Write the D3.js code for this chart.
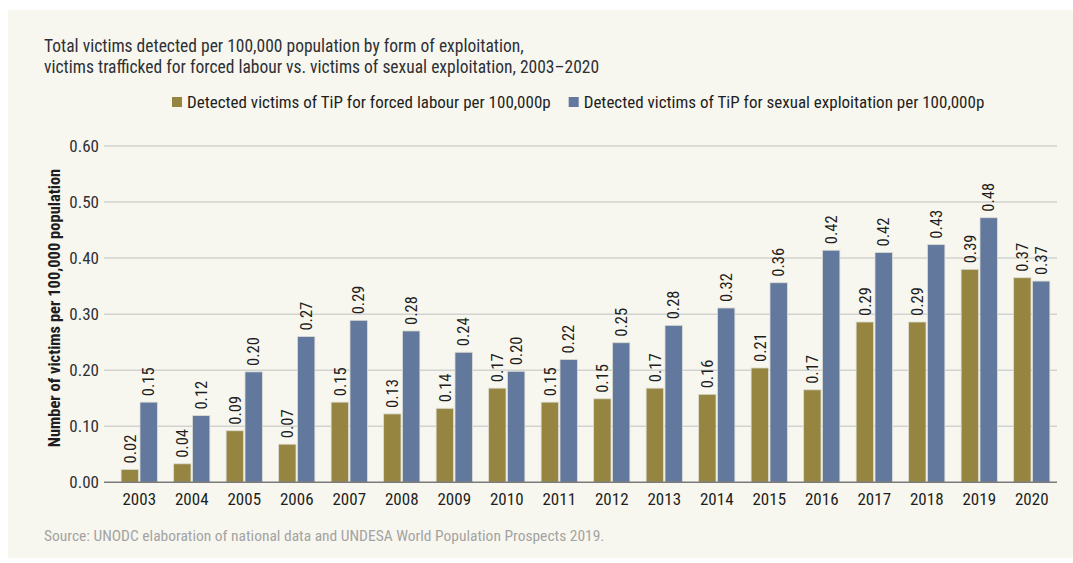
<!DOCTYPE html>
<html>
<head>
<meta charset="utf-8">
<script src="https://cdn.jsdelivr.net/npm/d3@7"></script>
<style>
  body { margin: 0; background: #fff; }
  svg text { font-family: "Roboto Condensed", "Liberation Sans Narrow", "DejaVu Sans Condensed", Roboto, sans-serif; font-stretch: condensed; }
</style>
</head>
<body>
<svg id="chart" width="1073" height="563"></svg>
<script>
// data
const years = ["2003","2004","2005","2006","2007","2008","2009","2010","2011","2012","2013","2014","2015","2016","2017","2018","2019","2020"];
const forcedLabour = [0.023,0.033,0.092,0.068,0.143,0.122,0.132,0.168,0.143,0.149,0.168,0.157,0.204,0.165,0.286,0.286,0.380,0.365];
const sexualExpl   = [0.143,0.119,0.197,0.260,0.289,0.270,0.232,0.198,0.219,0.249,0.280,0.311,0.356,0.414,0.410,0.424,0.472,0.359];
const forcedText = ["0.02","0.04","0.09","0.07","0.15","0.13","0.14","0.17","0.15","0.15","0.17","0.16","0.21","0.17","0.29","0.29","0.39","0.37"];
const sexualText = ["0.15","0.12","0.20","0.27","0.29","0.28","0.24","0.20","0.22","0.25","0.28","0.32","0.36","0.42","0.42","0.43","0.48","0.37"];
const yTicks = [0, 0.1, 0.2, 0.3, 0.4, 0.5, 0.6];
const seriesNames = ["Detected victims of TiP for forced labour per 100,000p", "Detected victims of TiP for sexual exploitation per 100,000p"];
const colors = ["#968540", "#62789c"];

const svg = d3.select("#chart");

// panel background
svg.append("rect").attr("x", 8).attr("y", 10).attr("width", 1065).attr("height", 548).attr("fill", "#f8f7ef");

// title
svg.append("text").attr("x", 44).attr("y", 52).attr("font-size", 17.5).attr("fill", "#2e3035")
  .text("Total victims detected per 100,000 population by form of exploitation,");
svg.append("text").attr("x", 44).attr("y", 73).attr("font-size", 17.5).attr("fill", "#2e3035")
  .text("victims trafficked for forced labour vs. victims of sexual exploitation, 2003\u20132020");

// legend
const legend = svg.append("g");
let lx = 172;
seriesNames.forEach(function (name, i) {
    legend.append("rect").attr("x", lx).attr("y", 97).attr("width", 10).attr("height", 10).attr("fill", colors[i]);
    const t = legend.append("text").attr("x", lx + 15).attr("y", 108).attr("font-size", 17).attr("fill", "#1e1e22").text(name);
    lx += 15 + t.node().getComputedTextLength() + 18;
});

const y = d3.scaleLinear().domain([0, 0.6]).range([482.3, 146]);
const x0 = d3.scaleBand().domain(years).range([113, 1058]).paddingInner(0.31).paddingOuter(0.155);
const x1 = d3.scaleBand().domain([0, 1]).range([0, x0.bandwidth()]).paddingInner(0.08);

// gridlines + y labels
const grid = svg.append("g");
grid.selectAll("line").data(yTicks.slice(1)).enter().append("line")
  .attr("x1", 104).attr("x2", 1057)
  .attr("y1", function (d) { return y(d); }).attr("y2", function (d) { return y(d); })
  .attr("stroke", "#d2d2d0").attr("stroke-width", 1.5);
grid.selectAll("text").data(yTicks).enter().append("text")
  .attr("x", 99).attr("y", function (d) { return y(d); })
  .attr("dy", "0.35em").attr("text-anchor", "end").attr("font-size", 17).attr("fill", "#2e3035")
  .text(function (d) { return d3.format(".2f")(d); });

// y axis title
svg.append("text").attr("transform", "translate(60,308) rotate(-90)")
  .attr("text-anchor", "middle").attr("font-size", 16.5).attr("font-weight", "bold").attr("fill", "#1e1e22")
  .text("Number of victims per 100,000 population");

// bars
const rows = years.map(function (yr, i) {
    return { year: yr, vals: [forcedLabour[i], sexualExpl[i]], txt: [forcedText[i], sexualText[i]] };
});
const groups = svg.selectAll("g.year").data(rows).enter().append("g")
  .attr("class", "year")
  .attr("transform", function (d) { return "translate(" + x0(d.year) + ",0)"; });

groups.selectAll("rect").data(function (d) { return d.vals; }).enter().append("rect")
  .attr("x", function (d, i) { return x1(i); })
  .attr("y", function (d) { return y(d); })
  .attr("width", x1.bandwidth())
  .attr("height", function (d) { return y(0) - y(d); })
  .attr("fill", function (d, i) { return colors[i]; })
  .attr("stroke", "#dcdcd4").attr("stroke-width", 0.8);

groups.selectAll("text").data(function (d) { return d.vals.map(function (v, i) { return { v: v, t: d.txt[i] }; }); })
  .enter().append("text")
  .attr("transform", function (d, i) {
      return "translate(" + (x1(i) + x1.bandwidth() / 2) + "," + (y(d.v) - 6) + ") rotate(-90)";
  })
  .attr("dy", "0.35em").attr("font-size", 16.5).attr("fill", "#1e1e22")
  .text(function (d) { return d.t; });

// baseline
svg.append("line").attr("x1", 104).attr("x2", 1057).attr("y1", y(0)).attr("y2", y(0))
  .attr("stroke", "#7a7a7a").attr("stroke-width", 1.5);

// x labels
svg.selectAll("text.xl").data(years).enter().append("text")
  .attr("class", "xl")
  .attr("x", function (d) { return x0(d) + x0.bandwidth() / 2; })
  .attr("y", 505).attr("text-anchor", "middle").attr("font-size", 17).attr("fill", "#1e1e22")
  .text(function (d) { return d; });

// source
svg.append("text").attr("x", 44).attr("y", 541).attr("font-size", 15.5).attr("fill", "#a3a3a3")
  .text("Source: UNODC elaboration of national data and UNDESA World Population Prospects 2019.");
</script>
</body>
</html>
